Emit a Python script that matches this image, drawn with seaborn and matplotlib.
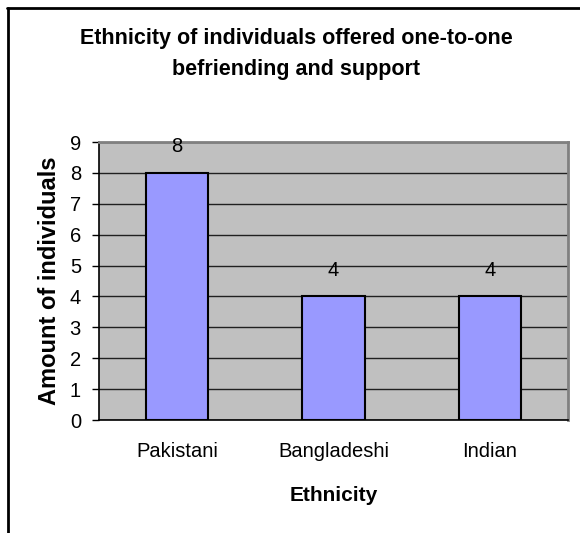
import matplotlib
matplotlib.use("Agg")
import matplotlib.pyplot as plt
from matplotlib.lines import Line2D
from matplotlib.ticker import FixedLocator
import seaborn as sns
import pandas as pd

# Data
categories = ["Pakistani", "Bangladeshi", "Indian"]
counts = [8, 4, 4]
y_ticks = list(range(0, 10))

title = "Ethnicity of individuals offered one-to-one\nbefriending and support"
x_label = "Ethnicity"
y_label = "Amount of individuals"

df = pd.DataFrame({"Ethnicity": categories, "Count": counts})

sns.set_theme(style="white")
plt.rcParams["font.family"] = ["Liberation Sans", "DejaVu Sans"]
plt.rcParams["text.color"] = "black"
plt.rcParams["axes.labelcolor"] = "black"

W, H, DPI = 580, 533, 100
fig = plt.figure(figsize=(W / DPI, H / DPI), dpi=DPI, facecolor="white")

# plot area in pixel coordinates
left, right, top, bottom = 99, 568, 142, 420
ax = fig.add_axes([left / W, 1 - bottom / H, (right - left) / W, (bottom - top) / H])
ax.set_facecolor("#C0C0C0")

sns.barplot(data=df, x="Ethnicity", y="Count", ax=ax, width=0.4,
            color="#9999FF", edgecolor="black", linewidth=1.5,
            saturation=1, zorder=3)

ax.set_xlim(-0.5, len(categories) - 0.5)
ax.set_ylim(0, 9)
ax.set_yticks(y_ticks)
ax.yaxis.grid(True, color="#202020", linewidth=1.0, zorder=1)
ax.xaxis.grid(False)
ax.set_axisbelow(True)

# category boundary ticks on the x axis
ax.xaxis.set_minor_locator(FixedLocator([i - 0.5 for i in range(len(categories) + 1)]))
ax.tick_params(axis="x", which="major", length=0, pad=16, labelsize=14.5,
               labelcolor="black")
ax.tick_params(axis="x", which="minor", length=5, width=1, direction="out", color="black")
ax.tick_params(axis="y", which="major", length=5, width=1, direction="out",
               pad=8, labelsize=14.5, color="black", labelcolor="black", left=True)

for side in ("left", "bottom"):
    ax.spines[side].set_color("black")
    ax.spines[side].set_linewidth(1.2)
for side in ("top", "right"):
    ax.spines[side].set_visible(True)
    ax.spines[side].set_color("#808080")
    ax.spines[side].set_linewidth(2)

ax.set_xlabel(x_label, fontsize=15, fontweight="bold", labelpad=18, color="black")
ax.set_ylabel(y_label, fontsize=17, fontweight="bold", labelpad=6, color="black")

# value labels above each bar
for i, v in enumerate(counts):
    ax.annotate(f"{v}", xy=(i, v), xytext=(0, 15), textcoords="offset points",
                ha="center", va="baseline", fontsize=14.5, color="black",
                zorder=4, annotation_clip=False)

fig.text(296 / W, 1 - 54 / H, title, ha="center", va="center",
         fontsize=15.5, fontweight="bold", linespacing=1.6, color="black")

# chart frame (top and left edges)
fig.add_artist(Line2D([7 / W, 1.0], [1 - 8 / H, 1 - 8 / H], transform=fig.transFigure,
                      color="black", linewidth=2))
fig.add_artist(Line2D([7.5 / W, 7.5 / W], [0.0, 1 - 8 / H], transform=fig.transFigure,
                      color="black", linewidth=2))

fig.savefig("out.png", dpi=DPI, facecolor="white")
